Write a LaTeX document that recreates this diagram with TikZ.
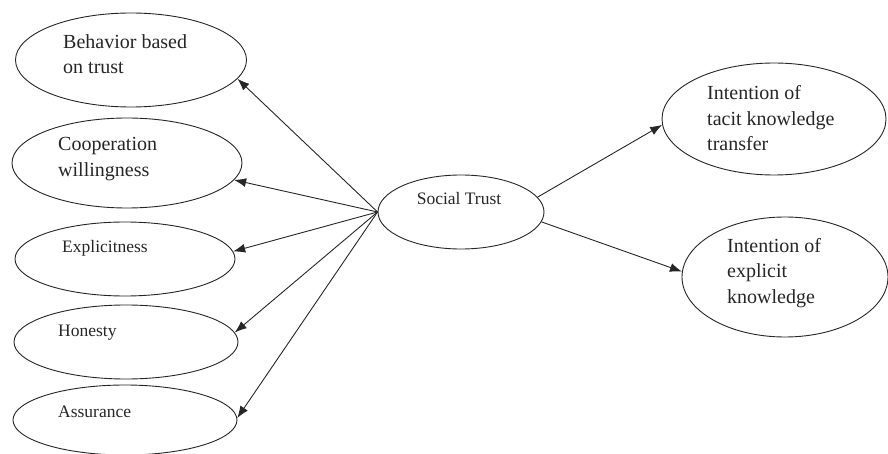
\documentclass[tikz,border=0pt]{standalone}
\usepackage{fontspec}
\setmainfont{Liberation Serif}
\usetikzlibrary{shapes.geometric,arrows.meta}
\tikzset{
  oval/.style={draw=black!85, line width=0.9pt, ellipse, inner sep=0pt, fill=white},
  bigtxt/.style={anchor=west, align=left, inner sep=0pt, font=\fontsize{20}{25.5}\selectfont, text=black!85},
  smalltxt/.style={anchor=west, inner sep=0pt, font=\fontsize{17.5}{22}\selectfont, text=black!85},
  arr/.style={draw=black!85, line width=0.9pt, -{Latex[length=12pt,width=9pt]}}
}
\begin{document}
\begin{tikzpicture}[x=1pt,y=-1pt]
\useasboundingbox (0,0) rectangle (888,454);
% ellipses
\node[oval, minimum width=231pt, minimum height=94pt] (e1) at (131,60) {};
\node[oval, minimum width=230pt, minimum height=90pt] (e2) at (127,163) {};
\node[oval, minimum width=220pt, minimum height=74pt] (e3) at (125,259) {};
\node[oval, minimum width=224pt, minimum height=74pt] (e4) at (126,342) {};
\node[oval, minimum width=224pt, minimum height=70pt] (e5) at (125,420) {};
\node[oval, minimum width=166pt, minimum height=74pt] (st) at (461,212) {};
\node[oval, minimum width=224pt, minimum height=112pt] (e6) at (774,119) {};
\node[oval, minimum width=206pt, minimum height=120pt] (e7) at (785,277) {};
% texts
\node[bigtxt] (t1) at (63,54) {Behavior based\\on trust};
\node[bigtxt] (t2) at (58,159) {Cooperation\\willingness};
\node[smalltxt] (t3) at (62,248) {Explicitness};
\node[smalltxt] (t4) at (58,333) {Honesty};
\node[smalltxt] (t5) at (58,412) {Assurance};
\node[smalltxt, anchor=center] (t0) at (459,199) {Social Trust};
\node[bigtxt] (t6) at (707,118.5) {Intention of\\tacit knowledge\\transfer};
\node[bigtxt] (t7) at (727,273) {Intention of\\explicit\\knowledge};
% connectors
\draw[arr] (st.west) -- (e1.-10);
\draw[arr] (st.west) -- (e2.-9);
\draw[arr] (st.west) -- (e3.4);
\draw[arr] (st.west) -- (e4.5);
\draw[arr] (st.west) -- (e5.1.5);
\draw[arr] (st.11) -- (e6.183);
\draw[arr] (st.-7) -- (e7.177);
\end{tikzpicture}
\end{document}
